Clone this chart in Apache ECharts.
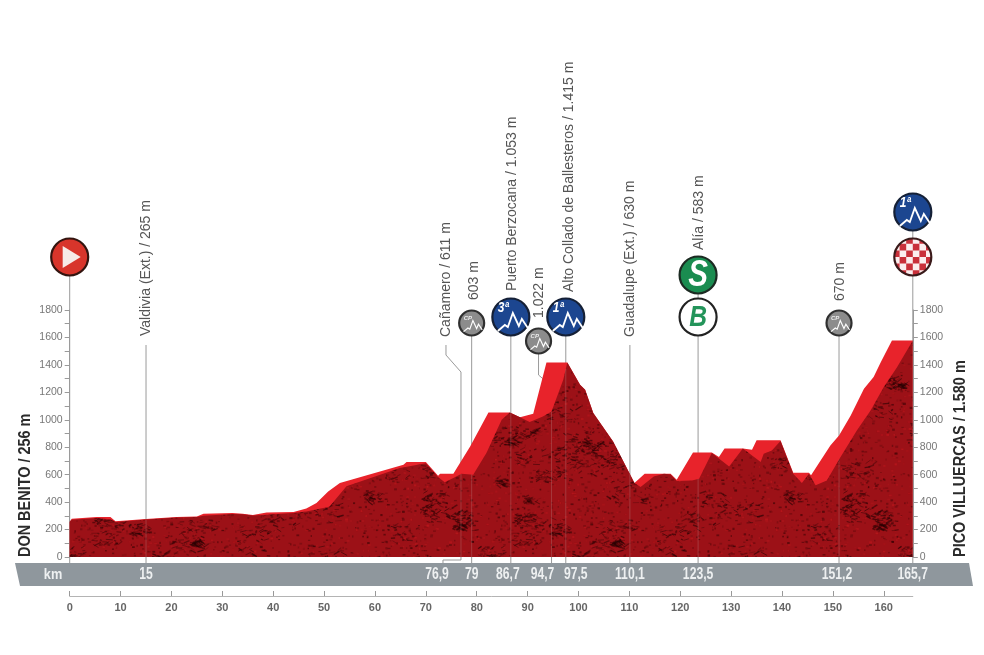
<!DOCTYPE html>
<html lang="es">
<head>
    <meta charset="UTF-8">
    <title>Perfil de etapa</title>
    <style>
        html, body { margin: 0; padding: 0; background: #fff; }
        #chart { width: 984px; height: 655px; }
    </style>
    <script src="https://cdn.jsdelivr.net/npm/echarts@6/dist/echarts.min.js"></script>
</head>
<body>
    <div id="chart"></div>
    <script>
        // bright rear ridge, km / metres
        const backKm = [0, 0.4, 5.3, 8, 9, 15, 21, 25, 26.3, 32, 34, 36, 38.7, 44, 46.5, 48.5, 50.8, 53.1, 65.6, 66.2, 70, 72.4, 72.8, 75.4, 78.7, 82.3, 86.5, 88.5, 91.1, 93.7, 97.8, 100.3, 101.3, 102.9, 106.8, 111, 113, 116, 118.1, 119.3, 122.5, 126.2, 127.6, 128.7, 132.3, 134.1, 135, 139.7, 142.2, 145.3, 145.7, 149.5, 151.2, 153.5, 156.1, 158, 159.4, 161.6, 165.7];
        const backAlt = [256, 279, 291, 291, 260, 277, 291, 296, 316, 320, 316, 306, 325, 328, 354, 393, 478, 539, 672, 692, 692, 592, 607, 607, 806, 1053, 1053, 1019, 1044, 1417, 1417, 1255, 1218, 1049, 842, 539, 607, 607, 607, 563, 762, 762, 728, 791, 791, 782, 850, 850, 614, 614, 595, 813, 886, 1032, 1226, 1311, 1420, 1578, 1578];
        // dark front ridge, km / metres
        const frontKm = [0, 0.4, 5.3, 8, 9, 15, 21, 25, 26.3, 32, 34, 36, 38.7, 44, 46.5, 50.8, 51.2, 54.4, 64.9, 70, 72.4, 73.7, 75.4, 77, 79.3, 81.9, 84.9, 86.5, 88.5, 90.4, 93, 94.7, 97, 97.8, 100.3, 101.3, 102.9, 106.8, 111, 112.2, 114.8, 116.8, 118.1, 119.3, 122.3, 123.7, 126.2, 129.6, 132.3, 135.8, 136.4, 138, 139.7, 142.2, 143.9, 145.3, 146.6, 148.8, 151.5, 154.7, 157.4, 160, 162.6, 165.7];
        const frontAlt = [256, 272, 285, 276, 255, 273, 287, 292, 300, 314, 312, 302, 308, 320, 332, 364, 374, 515, 648, 684, 583, 544, 575, 607, 600, 757, 1000, 1053, 1019, 983, 1024, 1060, 1291, 1417, 1255, 1218, 1049, 842, 539, 510, 587, 607, 602, 553, 558, 570, 757, 660, 791, 692, 752, 776, 845, 607, 539, 607, 522, 558, 728, 922, 1068, 1238, 1383, 1578];

        const stopKm = [15, 76.9, 79, 86.7, 94.7, 97.5, 110.1, 123.5, 151.2, 165.7];
        const stopKmLabels = ['15', '76,9', '79', '86,7', '94,7', '97,5', '110,1', '123,5', '151,2', '165,7'];
        const stopNames = ['Valdivia (Ext.) / 265 m', 'Cañamero / 611 m', '603 m', 'Puerto Berzocana / 1.053 m', '1.022 m', 'Alto Collado de Ballesteros / 1.415 m', 'Guadalupe (Ext.) / 630 m', 'Alía / 583 m', '670 m', ''];
        const startName = 'DON BENITO / 256 m';
        const finishName = 'PICO VILLUERCAS / 1.580 m';

        const BASE_Y = 557;
        const BAND_TOP = 563;
        const LABEL_FONT = '"Liberation Sans", sans-serif';

        // where things sit on the page, one entry per stop: label dx / label bottom, km label dx
        const labelPos = [[0, 336], [-15, 337], [2, 300], [1, 291], [-12, 318], [3, 292], [0, 337], [1, 250], [1, 301], [0, 0]];
        const kmLabelDx = [0, -24, 0, -3, -9, 10, 0, 0, -2, 0];
        // pole outline relative to the pole foot x, y in page pixels
        const polePaths = [
            [[0, 345], [0, BAND_TOP]],
            [[-15, 345], [-15, 355], [0, 372], [0, 560], [-18, 560], [-18, BAND_TOP]],
            [[0, 323], [0, BAND_TOP]],
            [[0, 317], [0, BAND_TOP]],
            [[-13, 341], [-13, 375], [0, 386], [0, BAND_TOP]],
            [[0, 317], [0, BAND_TOP]],
            [[0, 345], [0, BAND_TOP]],
            [[0, 275], [0, BAND_TOP]],
            [[0, 323], [0, BAND_TOP]],
            [[0, 212], [0, BAND_TOP]]
        ];
        const icons = [
            { km: 0, kind: 'start', y: 257 },
            { km: 79, kind: 'cp', y: 323 },
            { km: 86.7, kind: 'cat', y: 317, text: '3ª' },
            { km: 94.7, dx: -13, kind: 'cp', y: 341 },
            { km: 97.5, kind: 'cat', y: 317, text: '1ª' },
            { km: 123.5, kind: 'sprint', y: 275 },
            { km: 123.5, kind: 'bonus', y: 317 },
            { km: 151.2, kind: 'cp', y: 323 },
            { km: 165.7, kind: 'cat', y: 212, text: '1ª' },
            { km: 165.7, kind: 'finish', y: 257 }
        ];

        // rocky texture for the front face
        function makeRock() {
            const size = 420;
            const c = document.createElement('canvas');
            c.width = c.height = size;
            const g = c.getContext('2d');
            g.fillStyle = '#9c1117';
            g.fillRect(0, 0, size, size);
            let s = 12345;
            const rnd = () => (s = (s * 1103515245 + 12345) & 0x7fffffff) / 0x7fffffff;
            // fine speckle everywhere
            for (let i = 0; i < 9000; i++) {
                g.fillStyle = rnd() < 0.7 ? 'rgba(55,4,6,' + (0.12 + rnd() * 0.3) + ')' : 'rgba(190,24,30,' + (0.15 + rnd() * 0.3) + ')';
                g.fillRect(rnd() * size, rnd() * size, 1 + rnd() * 2, 1 + rnd() * 1.2);
            }
            // dark clumps of short cracks
            for (let k = 0; k < 140; k++) {
                const cx = rnd() * size, cy = rnd() * size, spread = 6 + rnd() * 16;
                for (let i = 0; i < 26; i++) {
                    const x = cx + (rnd() - 0.5) * spread * 2, y = cy + (rnd() - 0.5) * spread;
                    const a = rnd() * 1.4 - 0.7, len = 2 + rnd() * 5;
                    g.strokeStyle = 'rgba(40,3,4,' + (0.25 + rnd() * 0.45) + ')';
                    g.lineWidth = 0.6 + rnd() * 1;
                    g.beginPath();
                    g.moveTo(x, y);
                    g.lineTo(x + Math.cos(a) * len, y + Math.sin(a) * len);
                    g.stroke();
                }
            }
            return c;
        }

        function frontAt(km) {
            for (let i = 1; i < frontKm.length; i++) {
                if (km <= frontKm[i]) {
                    const t = (km - frontKm[i - 1]) / (frontKm[i] - frontKm[i - 1]);
                    return frontAlt[i - 1] + t * (frontAlt[i] - frontAlt[i - 1]);
                }
            }
            return frontAlt[frontAlt.length - 1];
        }

        function rotatedText(x, y, text, font, fill) {
            return {
                type: 'text', x: x, y: y, rotation: Math.PI / 2,
                style: { text: text, font: font, fill: fill, align: 'left', verticalAlign: 'middle' }
            };
        }

        function mountain(x, y, scale) {
            return {
                type: 'polyline', x: x, y: y, scaleX: scale, scaleY: scale,
                shape: { points: [[-13, 14], [-6, 8], [-3, 10], [2, -4], [8, 9], [11, 2], [17, 11]] },
                style: { stroke: '#fff', lineWidth: 1.8, fill: null }
            };
        }

        function drawIcon(ic, x) {
            const y = ic.y;
            const ring = (r, fill, stroke) => ({
                type: 'circle', shape: { cx: x, cy: y, r: r },
                style: { fill: fill, stroke: stroke, lineWidth: 2.2 }
            });
            if (ic.kind === 'start') {
                return [ring(18.5, '#d8352b', '#33140f'),
                    { type: 'polygon', shape: { points: [[x - 7, y - 11], [x + 11, y], [x - 7, y + 11]] }, style: { fill: '#f6ebe7' } }];
            }
            if (ic.kind === 'cp') {
                return [ring(12.5, '#8c8c8c', '#2f2f2f'), mountain(x, y, 0.62),
                    { type: 'text', x: x - 8, y: y - 5, style: { text: 'CP', font: 'italic bold 6px "Liberation Sans"', fill: '#eee', align: 'left', verticalAlign: 'middle' } }];
            }
            if (ic.kind === 'cat') {
                return [ring(18.5, '#1c4690', '#152036'), mountain(x, y, 1),
                    { type: 'text', x: x - 13, y: y - 9, scaleX: 0.8, style: { text: ic.text, font: 'italic bold 15px "Liberation Sans"', fill: '#fff', align: 'left', verticalAlign: 'middle' } }];
            }
            if (ic.kind === 'sprint') {
                return [ring(18.5, '#1a8c50', '#1c2a22'),
                    { type: 'text', x: x, y: y + 1, scaleX: 0.8, style: { text: 'S', font: 'italic bold 37px "Liberation Sans"', fill: '#fff', align: 'center', verticalAlign: 'middle' } }];
            }
            if (ic.kind === 'bonus') {
                return [ring(18.5, '#fff', '#222'),
                    { type: 'text', x: x, y: y + 1, scaleX: 0.85, style: { text: 'B', font: 'italic bold 29px "Liberation Sans"', fill: '#23945a', align: 'center', verticalAlign: 'middle' } }];
            }
            // finish, red and white squares
            const cells = [{ type: 'circle', shape: { cx: x, cy: y, r: 18.5 }, style: { fill: '#fbeeee' } }];
            const cell = 6.6;
            for (let i = -3; i < 3; i++) {
                for (let j = -3; j < 3; j++) {
                    if ((i + j + 200) % 2 === 0) {
                        cells.push({ type: 'rect', shape: { x: x + i * cell, y: y + j * cell, width: cell, height: cell }, style: { fill: '#c9303a' } });
                    }
                }
            }
            return [{
                type: 'group',
                clipPath: { type: 'circle', shape: { cx: x, cy: y, r: 18.5 } },
                children: cells
            }, { type: 'circle', shape: { cx: x, cy: y, r: 18.5 }, style: { fill: null, stroke: '#3a1a1a', lineWidth: 2.2 } }];
        }

        const stopData = stopKm.map(km => [km, 0]);

        const chart = echarts.init(document.getElementById('chart'), null, { renderer: 'canvas' });

        const yAxisBase = {
            type: 'value', min: 0, max: 1800, interval: 200,
            splitLine: { show: false },
            axisLine: { show: true, lineStyle: { color: '#9a9a9a', width: 1 } },
            axisTick: { show: true, length: 5, lineStyle: { color: '#9a9a9a' } },
            minorTick: { show: true, splitNumber: 2, length: 5, lineStyle: { color: '#9a9a9a' } },
            axisLabel: { color: '#777', fontSize: 10.5, fontFamily: 'Liberation Sans', margin: 7, formatter: v => String(v) }
        };

        chart.setOption({
            backgroundColor: '#fff',
            animation: false,
            grid: { left: 69.7, right: 71.2, top: 310, bottom: 98 },
            xAxis: {
                type: 'value', min: 0, max: 165.7, interval: 10,
                position: 'bottom', offset: 39,
                splitLine: { show: false },
                axisLine: { show: true, onZero: false, lineStyle: { color: '#b4b4b4', width: 1 } },
                axisTick: { show: true, inside: true, length: 5, lineStyle: { color: '#999' } },
                axisLabel: { color: '#666', fontFamily: LABEL_FONT, fontWeight: 'bold', fontSize: 11, margin: 6, showMaxLabel: false, showMinLabel: true }
            },
            yAxis: [
                Object.assign({}, yAxisBase, { position: 'left' }),
                Object.assign({}, yAxisBase, { position: 'right' })
            ],
            graphic: [{
                type: 'polygon', z: -1,
                shape: { points: [[15, BAND_TOP], [969, BAND_TOP], [973, 586], [20, 586]] },
                style: { fill: '#8f979d' }
            }, {
                type: 'text', x: 53, y: 575, z: 10, scaleX: 0.85,
                style: { text: 'km', font: 'bold 15px ' + LABEL_FONT, fill: '#eef0f1', align: 'center', verticalAlign: 'middle' }
            }, {
                type: 'text', x: 25, y: BASE_Y, z: 10, rotation: Math.PI / 2, scaleX: 0.85,
                style: { text: startName, font: 'bold 17px ' + LABEL_FONT, fill: '#2b2b2b', align: 'left', verticalAlign: 'middle' }
            }, {
                type: 'text', x: 960, y: BASE_Y, z: 10, rotation: Math.PI / 2, scaleX: 0.85,
                style: { text: finishName, font: 'bold 17px ' + LABEL_FONT, fill: '#2b2b2b', align: 'left', verticalAlign: 'middle' }
            }],
            series: [
                {
                    // poles behind the relief
                    type: 'custom', z: 1, data: stopData,
                    renderItem: (p, api) => {
                        const x = api.coord([api.value(0), 0])[0];
                        return {
                            type: 'polyline',
                            shape: { points: polePaths[p.dataIndex].map(q => [x + q[0], q[1]]) },
                            style: { stroke: '#9a9a9a', lineWidth: 1, fill: null }
                        };
                    }
                },
                {
                    type: 'custom', z: 1, data: [[0, 0]],
                    renderItem: (p, api) => {
                        const x = api.coord([0, 0])[0];
                        return { type: 'line', shape: { x1: x, y1: 257, x2: x, y2: BAND_TOP }, style: { stroke: '#9a9a9a', lineWidth: 1 } };
                    }
                },
                {
                    type: 'line', z: 2, symbol: 'none', silent: true,
                    data: backKm.map((km, i) => [km, backAlt[i]]),
                    lineStyle: { width: 0 },
                    areaStyle: { color: '#e8232b', opacity: 1 }
                },
                {
                    type: 'line', z: 3, symbol: 'none', silent: true,
                    data: frontKm.map((km, i) => [km, frontAlt[i]]),
                    lineStyle: { width: 0 },
                    areaStyle: { color: { image: makeRock(), repeat: 'repeat' }, opacity: 1 }
                },
                {
                    // faint poles over the relief
                    type: 'custom', z: 4, data: stopData,
                    renderItem: (p, api) => {
                        const km = api.value(0);
                        const a = api.coord([km, frontAt(km)]);
                        const b = api.coord([km, 0]);
                        return { type: 'line', shape: { x1: a[0], y1: a[1], x2: b[0], y2: b[1] }, style: { stroke: 'rgba(190,150,150,0.3)', lineWidth: 1 } };
                    }
                },
                {
                    // stop names and km in the band
                    type: 'custom', z: 5, data: stopData,
                    renderItem: (p, api) => {
                        const x = api.coord([api.value(0), 0])[0];
                        const i = p.dataIndex;
                        const kids = [{
                            type: 'text', x: x + kmLabelDx[i], y: 575, scaleX: 0.76,
                            style: { text: stopKmLabels[i], font: 'bold 16px ' + LABEL_FONT, fill: '#eef0f1', align: 'center', verticalAlign: 'middle' }
                        }];
                        if (stopNames[i]) {
                            kids.push(rotatedText(x + labelPos[i][0], labelPos[i][1], stopNames[i], '14px ' + LABEL_FONT, '#555'));
                        }
                        return { type: 'group', children: kids };
                    }
                },
                {
                    type: 'custom', z: 6, data: icons.map(ic => [ic.km, 0]),
                    renderItem: (p, api) => {
                        const ic = icons[p.dataIndex];
                        const x = api.coord([api.value(0), 0])[0] + (ic.dx || 0);
                        return { type: 'group', children: drawIcon(ic, x) };
                    }
                }
            ]
        });
    </script>
</body>
</html>
